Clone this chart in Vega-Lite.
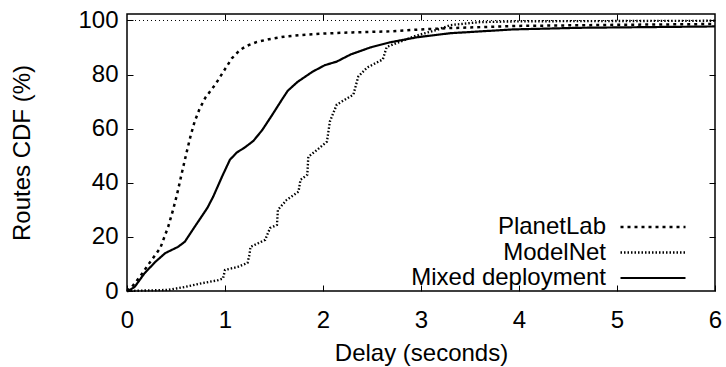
{
  "$schema": "https://vega.github.io/schema/vega-lite/v6.json",
  "width": 588,
  "height": 277,
  "autosize": {"type": "none"},
  "padding": {"left": 127, "top": 14, "right": 11, "bottom": 76},
  "background": "white",
  "config": {
    "font": "Liberation Sans",
    "view": {"stroke": "black", "strokeWidth": 1.5},
    "axis": {
      "grid": false,
      "domain": false,
      "labelFlush": false,
      "labelFont": "Liberation Sans",
      "labelFontSize": 24,
      "labelColor": "black",
      "titleFont": "Liberation Sans",
      "titleFontSize": 24,
      "titleFontWeight": "normal",
      "titleColor": "black",
      "tickColor": "black",
      "tickWidth": 1,
      "tickSize": -6
    }
  },
  "layer": [
    {
      "data": {"values": [{"x0": 0, "x1": 6, "y": 100}]},
      "mark": {"type": "rule", "color": "black", "strokeWidth": 1, "strokeDash": [1, 3]},
      "encoding": {
        "x": {"field": "x0", "type": "quantitative", "scale": {"domain": [0, 6], "nice": false},
          "axis": {"orient": "top", "labels": false, "title": null, "values": [1, 2, 3, 4, 5]}},
        "x2": {"field": "x1"},
        "y": {"field": "y", "type": "quantitative", "scale": {"domain": [0, 102.4], "nice": false},
          "axis": {"orient": "right", "labels": false, "title": null, "values": [20, 40, 60, 80, 100]}}
      }
    },
    {
      "data": {"values": [
        {"s": "PlanetLab", "x": 0, "y": 0},
        {"s": "PlanetLab", "x": 0.05, "y": 1.5},
        {"s": "PlanetLab", "x": 0.13, "y": 5.2},
        {"s": "PlanetLab", "x": 0.23, "y": 10.4},
        {"s": "PlanetLab", "x": 0.34, "y": 15.9},
        {"s": "PlanetLab", "x": 0.42, "y": 23.7},
        {"s": "PlanetLab", "x": 0.47, "y": 30},
        {"s": "PlanetLab", "x": 0.51, "y": 35.6},
        {"s": "PlanetLab", "x": 0.56, "y": 43.7},
        {"s": "PlanetLab", "x": 0.61, "y": 51.5},
        {"s": "PlanetLab", "x": 0.65, "y": 57.5},
        {"s": "PlanetLab", "x": 0.69, "y": 62.6},
        {"s": "PlanetLab", "x": 0.74, "y": 67.3},
        {"s": "PlanetLab", "x": 0.8, "y": 71.5},
        {"s": "PlanetLab", "x": 0.9, "y": 76.3},
        {"s": "PlanetLab", "x": 1.0, "y": 82.0},
        {"s": "PlanetLab", "x": 1.07, "y": 86.0},
        {"s": "PlanetLab", "x": 1.15, "y": 89.0},
        {"s": "PlanetLab", "x": 1.22, "y": 90.6},
        {"s": "PlanetLab", "x": 1.32, "y": 92.0},
        {"s": "PlanetLab", "x": 1.45, "y": 93.1},
        {"s": "PlanetLab", "x": 1.6, "y": 94.0},
        {"s": "PlanetLab", "x": 1.77, "y": 94.6},
        {"s": "PlanetLab", "x": 2.02, "y": 95.2},
        {"s": "PlanetLab", "x": 2.3, "y": 95.6},
        {"s": "PlanetLab", "x": 2.7, "y": 96.0},
        {"s": "PlanetLab", "x": 3.0, "y": 96.7},
        {"s": "PlanetLab", "x": 3.3, "y": 97.2},
        {"s": "PlanetLab", "x": 4.0, "y": 98.0},
        {"s": "PlanetLab", "x": 5.0, "y": 98.4},
        {"s": "PlanetLab", "x": 6.0, "y": 98.7},
        {"s": "ModelNet", "x": 0, "y": 0},
        {"s": "ModelNet", "x": 0.42, "y": 0.4},
        {"s": "ModelNet", "x": 0.59, "y": 1.5},
        {"s": "ModelNet", "x": 0.77, "y": 2.9},
        {"s": "ModelNet", "x": 0.93, "y": 4.0},
        {"s": "ModelNet", "x": 0.98, "y": 4.6},
        {"s": "ModelNet", "x": 1.0, "y": 7.8},
        {"s": "ModelNet", "x": 1.13, "y": 8.9},
        {"s": "ModelNet", "x": 1.23, "y": 10.4},
        {"s": "ModelNet", "x": 1.25, "y": 13.5},
        {"s": "ModelNet", "x": 1.26, "y": 16.3},
        {"s": "ModelNet", "x": 1.41, "y": 18.9},
        {"s": "ModelNet", "x": 1.46, "y": 23.3},
        {"s": "ModelNet", "x": 1.53, "y": 24.4},
        {"s": "ModelNet", "x": 1.54, "y": 30.0},
        {"s": "ModelNet", "x": 1.63, "y": 33.7},
        {"s": "ModelNet", "x": 1.75, "y": 36.7},
        {"s": "ModelNet", "x": 1.77, "y": 41.1},
        {"s": "ModelNet", "x": 1.84, "y": 43.0},
        {"s": "ModelNet", "x": 1.85, "y": 49.6},
        {"s": "ModelNet", "x": 1.94, "y": 52.2},
        {"s": "ModelNet", "x": 2.04, "y": 55.2},
        {"s": "ModelNet", "x": 2.07, "y": 62.6},
        {"s": "ModelNet", "x": 2.14, "y": 68.9},
        {"s": "ModelNet", "x": 2.31, "y": 72.6},
        {"s": "ModelNet", "x": 2.36, "y": 79.3},
        {"s": "ModelNet", "x": 2.45, "y": 82.6},
        {"s": "ModelNet", "x": 2.61, "y": 85.6},
        {"s": "ModelNet", "x": 2.65, "y": 90.2},
        {"s": "ModelNet", "x": 2.79, "y": 92.2},
        {"s": "ModelNet", "x": 2.96, "y": 94.5},
        {"s": "ModelNet", "x": 3.16, "y": 96.5},
        {"s": "ModelNet", "x": 3.3, "y": 98.3},
        {"s": "ModelNet", "x": 3.6, "y": 99.4},
        {"s": "ModelNet", "x": 4.0, "y": 99.7},
        {"s": "ModelNet", "x": 6.0, "y": 99.9},
        {"s": "Mixed deployment", "x": 0, "y": 0},
        {"s": "Mixed deployment", "x": 0.04, "y": 0.6},
        {"s": "Mixed deployment", "x": 0.08, "y": 1.6},
        {"s": "Mixed deployment", "x": 0.18, "y": 6.6},
        {"s": "Mixed deployment", "x": 0.29, "y": 10.8},
        {"s": "Mixed deployment", "x": 0.39, "y": 14.0},
        {"s": "Mixed deployment", "x": 0.52, "y": 16.3},
        {"s": "Mixed deployment", "x": 0.59, "y": 18.2},
        {"s": "Mixed deployment", "x": 0.69, "y": 23.7},
        {"s": "Mixed deployment", "x": 0.82, "y": 30.7},
        {"s": "Mixed deployment", "x": 0.88, "y": 34.9},
        {"s": "Mixed deployment", "x": 0.97, "y": 42.3},
        {"s": "Mixed deployment", "x": 1.05, "y": 48.5},
        {"s": "Mixed deployment", "x": 1.12, "y": 51.2},
        {"s": "Mixed deployment", "x": 1.2, "y": 53.0},
        {"s": "Mixed deployment", "x": 1.29, "y": 55.5},
        {"s": "Mixed deployment", "x": 1.38, "y": 59.5},
        {"s": "Mixed deployment", "x": 1.48, "y": 65.0},
        {"s": "Mixed deployment", "x": 1.58, "y": 70.7},
        {"s": "Mixed deployment", "x": 1.64, "y": 74.0},
        {"s": "Mixed deployment", "x": 1.74, "y": 77.3},
        {"s": "Mixed deployment", "x": 1.89, "y": 81.0},
        {"s": "Mixed deployment", "x": 2.02, "y": 83.5},
        {"s": "Mixed deployment", "x": 2.14, "y": 84.8},
        {"s": "Mixed deployment", "x": 2.28, "y": 87.4},
        {"s": "Mixed deployment", "x": 2.48, "y": 90.0},
        {"s": "Mixed deployment", "x": 2.68, "y": 91.9},
        {"s": "Mixed deployment", "x": 2.96, "y": 93.8},
        {"s": "Mixed deployment", "x": 3.3, "y": 95.3},
        {"s": "Mixed deployment", "x": 3.94, "y": 96.7},
        {"s": "Mixed deployment", "x": 4.62, "y": 97.3},
        {"s": "Mixed deployment", "x": 6.0, "y": 97.8}
      ]},
      "mark": {"type": "line", "color": "black"},
      "encoding": {
        "x": {"field": "x", "type": "quantitative", "scale": {"domain": [0, 6], "nice": false},
          "axis": {"orient": "bottom", "values": [0, 1, 2, 3, 4, 5, 6], "title": "Delay (seconds)", "labelPadding": 23, "titlePadding": 9}},
        "y": {"field": "y", "type": "quantitative", "scale": {"domain": [0, 102.4], "nice": false},
          "axis": {"orient": "left", "values": [0, 20, 40, 60, 80, 100], "title": "Routes CDF (%)", "labelPadding": 15, "titlePadding": 43}},
        "strokeDash": {"field": "s", "type": "nominal",
          "scale": {"domain": ["PlanetLab", "ModelNet", "Mixed deployment"], "range": [[3, 4], [1.5, 2], [1, 0]]},
          "legend": {"orient": "none", "legendX": 514, "legendY": 201, "title": null,
            "labelAlign": "right", "labelOffset": -59, "labelLimit": 0, "symbolType": "M-6.5,0H6.5", "symbolSize": 100,
            "symbolStrokeWidth": 1.5, "symbolStrokeColor": "black", "labelFontSize": 24,
            "labelFont": "Liberation Sans", "labelColor": "black", "rowPadding": 1.5, "padding": 0}},
        "strokeWidth": {"field": "s", "type": "nominal",
          "scale": {"domain": ["PlanetLab", "ModelNet", "Mixed deployment"], "range": [2.5, 2.2, 3.5]}, "legend": null}
      }
    }
  ],
  "resolve": {"axis": {"x": "independent", "y": "independent"}}
}
